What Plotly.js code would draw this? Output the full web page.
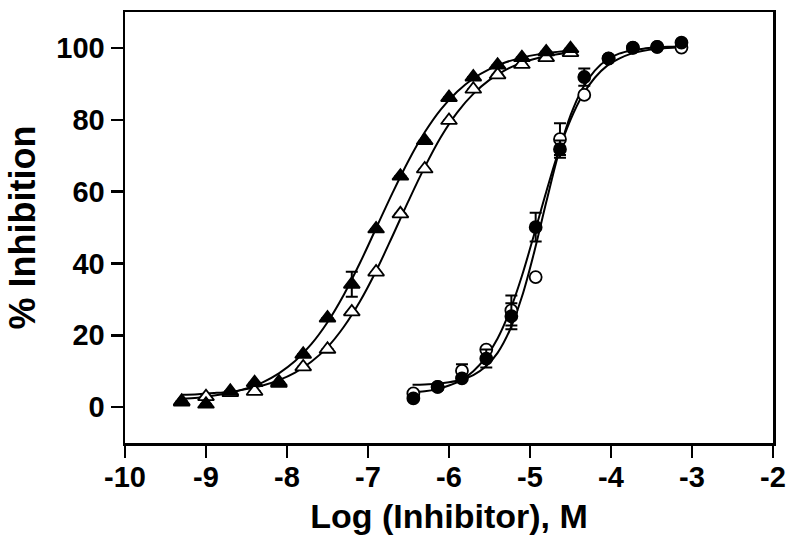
<!DOCTYPE html>
<html>
<head>
<meta charset="utf-8">
<script src="https://cdn.plot.ly/plotly-3.0.1.min.js"></script>
<style>
  html, body { margin: 0; padding: 0; background: #fff; }
  #chart { width: 794px; height: 554px; }
</style>
</head>
<body>
<div id="chart"></div>
<script>
// log concentrations (M)
const triX = [-9.3, -9.0, -8.7, -8.4, -8.1, -7.8, -7.5, -7.2, -6.9, -6.6, -6.3, -6.0, -5.7, -5.4, -5.1, -4.8, -4.5];
const triFilled = [1.4, 0.8, 4.4, 6.8, 7.0, 14.7, 24.8, 34.2, 49.6, 64.3, 74.2, 86.2, 91.9, 95.2, 97.3, 98.9, 99.8];
const triFilledErr = [0, 0, 0, 0, 0, 0, 0, 3.5, 0, 0, 0, 0, 0, 0, 0, 0, 0];
const triOpen = [1.6, 2.9, 4.0, 4.4, 6.6, 11.2, 16.1, 26.5, 37.6, 53.8, 66.3, 79.8, 88.5, 92.5, 95.4, 97.3, 98.7];

const cirX = [-6.44, -6.14, -5.84, -5.54, -5.23, -4.93, -4.63, -4.33, -4.03, -3.73, -3.43, -3.13];
const cirFilled = [2.4, 5.6, 8.0, 13.5, 25.3, 50.1, 71.8, 91.9, 97.1, 100.1, 100.3, 101.5];
const cirFilledErr = [0, 0, 0, 2.5, 3.6, 4.0, 2.4, 2.4, 0, 0, 0, 0];
const cirOpen = [3.8, 5.6, 10.1, 16.0, 26.9, 36.2, 74.6, 86.9, 97.0, 100.0, 100.3, 100.1];
const cirOpenErr = [0, 0, 1.8, 0, 4.2, 0, 4.4, 0, 0, 0, 0, 0];

// fitted curves
const triCurveX = [-9.3, -9.1, -8.9, -8.7, -8.5, -8.3, -8.1, -7.9, -7.7, -7.5, -7.3, -7.1, -6.9, -6.7, -6.5, -6.3, -6.1, -5.9, -5.7, -5.5, -5.3, -5.1, -4.9, -4.7, -4.5];
const triFilledCurve = [2.3, 2.6, 3.2, 4.0, 5.2, 6.9, 9.4, 12.8, 17.5, 23.6, 31.2, 40.1, 49.8, 59.5, 68.6, 76.5, 82.9, 87.8, 91.5, 94.1, 96.0, 97.3, 98.2, 98.8, 99.2];
const triOpenCurve = [3.4, 3.6, 3.9, 4.3, 5.0, 6.0, 7.5, 9.6, 12.6, 16.7, 22.3, 29.4, 37.9, 47.5, 57.4, 66.8, 75.2, 82.0, 87.2, 91.1, 93.9, 95.9, 97.2, 98.1, 98.8];

const cirCurveX = [-6.45, -6.3, -6.15, -6.0, -5.85, -5.7, -5.55, -5.4, -5.25, -5.1, -4.95, -4.8, -4.65, -4.5, -4.35, -4.2, -4.05, -3.9, -3.75, -3.6, -3.45, -3.3, -3.15];
const cirFilledCurve = [4.1, 4.4, 5.0, 6.0, 7.5, 10.0, 13.7, 19.1, 26.7, 36.5, 48.0, 59.9, 71.0, 80.0, 86.9, 91.7, 95.0, 97.0, 98.4, 99.2, 99.7, 100.0, 100.2];
const cirOpenCurve = [6.2, 6.3, 6.5, 6.9, 7.6, 8.9, 11.2, 15.1, 21.4, 30.7, 43.0, 57.0, 70.4, 81.2, 88.8, 93.7, 96.7, 98.4, 99.3, 99.8, 100.1, 100.3, 100.4];

const xTicks = [-10, -9, -8, -7, -6, -5, -4, -3, -2];
const yTicks = [0, 20, 40, 60, 80, 100];

const FONT = "Liberation Sans, Arial, sans-serif";

function curve(x, y){
  return { x: x, y: y, type: "scatter", mode: "lines",
    line: { color: "#000", width: 2, shape: "spline", smoothing: 1 }, hoverinfo: "skip" };
}

function points(x, y, err, symbol, fill){
  return {
    x: x, y: y, type: "scatter", mode: "markers",
    marker: { symbol: symbol, size: symbol === "circle" ? 12 : 14, color: fill,
      line: { color: "#000", width: 1.8 } },
    error_y: { type: "data", array: err, visible: true, color: "#000", thickness: 2, width: 6 }
  };
}

const zeros = triX.map(() => 0);

const traces = [
  curve(triCurveX, triOpenCurve),
  curve(triCurveX, triFilledCurve),
  curve(cirCurveX, cirOpenCurve),
  curve(cirCurveX, cirFilledCurve),
  points(triX, triOpen, zeros, "triangle-up", "#fff"),
  points(triX, triFilled, triFilledErr, "triangle-up", "#000"),
  points(cirX, cirOpen, cirOpenErr, "circle", "#fff"),
  points(cirX, cirFilled, cirFilledErr, "circle", "#000")
];

const axisCommon = {
  showline: true, linecolor: "#000", linewidth: 2.5, mirror: true,
  ticks: "outside", ticklen: 12, tickwidth: 2.5, tickcolor: "#000",
  showgrid: false, zeroline: false,
  tickfont: { family: FONT, size: 29, color: "#000", weight: "bold" }
};

Plotly.newPlot("chart", traces, {
  width: 794, height: 554,
  margin: { l: 125, r: 21, t: 12, b: 111 },
  paper_bgcolor: "#fff", plot_bgcolor: "#fff",
  showlegend: false,
  xaxis: Object.assign({}, axisCommon, {
    range: [-10, -2], tickvals: xTicks, ticktext: xTicks.map(String),
    ticklabelstandoff: -5,
    title: { text: "Log (Inhibitor), M", font: { family: FONT, size: 34, color: "#000", weight: "bold" }, standoff: 12 }
  }),
  yaxis: Object.assign({}, axisCommon, {
    range: [-10, 110], tickvals: yTicks, ticktext: yTicks.map(String),
    title: { text: "% Inhibition", font: { family: FONT, size: 36, color: "#000", weight: "bold" }, standoff: 10 }
  })
}, { displayModeBar: false, staticPlot: true });
</script>
</body>
</html>
